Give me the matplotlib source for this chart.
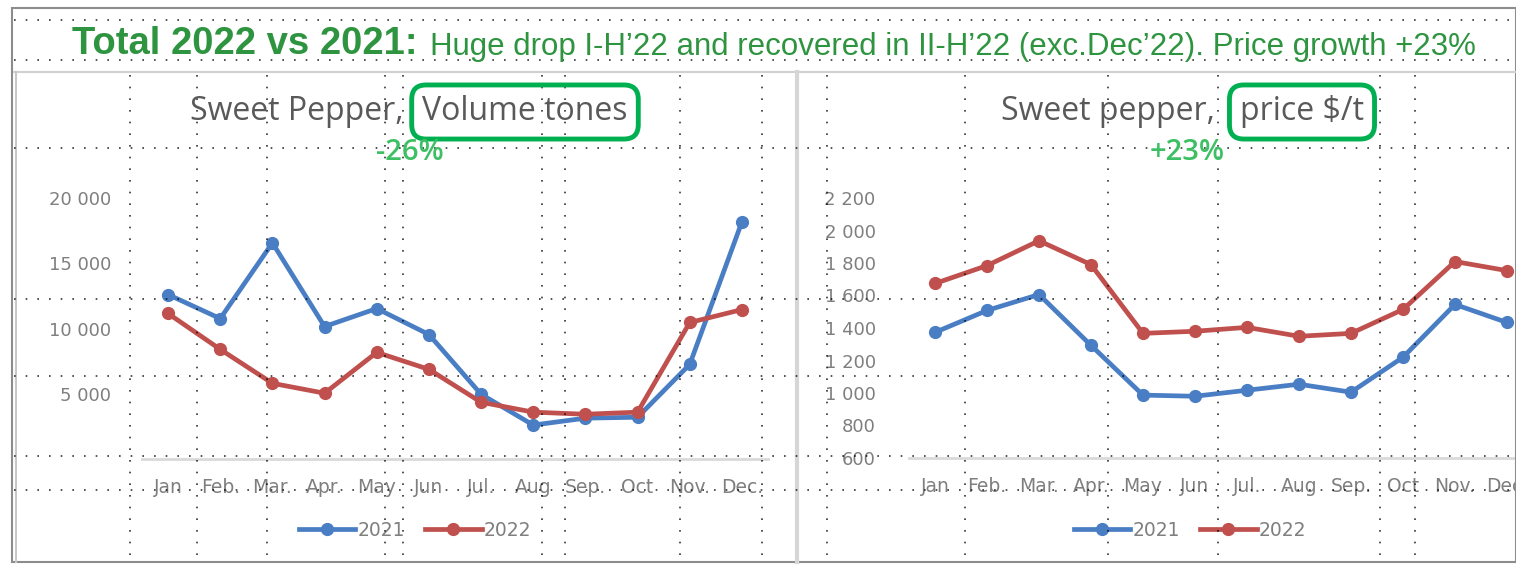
import matplotlib.pyplot as plt
from matplotlib.patches import Rectangle

# data
months = ["Jan", "Feb.", "Mar.", "Apr.", "May", "Jun", "Jul.", "Aug", "Sep.", "Oct", "Nov.", "Dec."]
volume_2021 = [12600, 10760, 16560, 10150, 11530, 9540, 4960, 2600, 3130, 3200, 7250, 18170]
volume_2022 = [11150, 8400, 5800, 5040, 8170, 6870, 4350, 3590, 3430, 3590, 10460, 11450]
price_2021 = [1373, 1508, 1606, 1293, 987, 980, 1017, 1054, 1005, 1220, 1545, 1434]
price_2022 = [1674, 1784, 1937, 1790, 1367, 1380, 1404, 1349, 1367, 1514, 1809, 1753]
volume_ticks = [5000, 10000, 15000, 20000]
price_ticks = [600, 800, 1000, 1200, 1400, 1600, 1800, 2000, 2200]

W, H = 1516, 565
BLUE = '#4A7EC4'
RED = '#C0504D'
GREY = '#7F7F7F'
GREEN_TITLE = '#2E9440'
GREEN_PCT = '#3DC063'
GREEN_BOX = '#00B050'

fig = plt.figure(figsize=(W / 100, H / 100), dpi=100)


def px(x, y):
    # pixel position (from top-left) -> figure fraction
    return x / W, 1 - y / H


def add_panel(x0, x1, y_top, y_bot, v21, v22, ticks, ylim, ypad):
    left, top = px(x0, y_top)
    right, bottom = px(x1, y_bot)
    ax = fig.add_axes([left, bottom, right - left, top - bottom])
    x = range(len(months))
    ax.plot(x, v21, color=BLUE, lw=3.4, marker='o', ms=8.5, label='2021')
    ax.plot(x, v22, color=RED, lw=3.4, marker='o', ms=8.5, label='2022')
    ax.set_xlim(-0.5, len(months) - 0.5)
    ax.set_ylim(*ylim)
    ax.set_yticks(ticks)
    ax.set_yticklabels([f"{t:,.0f}".replace(',', ' ') for t in ticks])
    ax.set_xticks(list(x))
    ax.set_xticklabels(months)
    ax.tick_params(length=0, colors=GREY)
    ax.tick_params(axis='y', pad=ypad, labelsize=13)
    ax.tick_params(axis='x', pad=14, labelsize=13.5)
    for s in ['top', 'right', 'left']:
        ax.spines[s].set_visible(False)
    ax.spines['bottom'].set_color('#D9D9D9')
    ax.spines['bottom'].set_linewidth(2)
    ax.patch.set_alpha(0)
    return ax


ax1 = add_panel(142, 768, 198, 459, volume_2021, volume_2022, volume_ticks, (0, 20000), 22)
ax2 = add_panel(909, 1533, 198, 458, price_2021, price_2022, price_ticks, (600, 2200), 24)

for ax, cx in [(ax1, 415), (ax2, 1190)]:
    ax.legend(loc='center', bbox_to_anchor=px(cx, 530), bbox_transform=fig.transFigure,
              ncol=2, frameon=False, fontsize=13.5, labelcolor=GREY, handlelength=3.0,
              handletextpad=0.1, columnspacing=1.1)

# header
title_font = ['Liberation Sans Narrow', 'Liberation Sans', 'DejaVu Sans']
fig.text(*px(72, 44), "Total 2022 vs 2021:", color=GREEN_TITLE, fontsize=27.5,
         fontweight='bold', family=title_font, va='center', ha='left')
fig.text(*px(430, 47), "Huge drop I-H’22 and recovered in II-H’22 (exc.Dec’22). Price growth +23%",
         color=GREEN_TITLE, fontsize=22.5, family=title_font, va='center', ha='left')

# panel titles
panel_font = ['Open Sans', 'DejaVu Sans']
box = dict(boxstyle='round,pad=0.33,rounding_size=0.45', ec=GREEN_BOX, fc='none', lw=3.5)
fig.text(*px(403, 112), "Sweet Pepper,", color='#595959', fontsize=23, family=panel_font,
         ha='right', va='center')
fig.text(*px(525, 112), "Volume tones", color='#595959', fontsize=23, family=panel_font,
         ha='center', va='center', bbox=box)
fig.text(*px(1215, 112), "Sweet pepper,", color='#595959', fontsize=23, family=panel_font,
         ha='right', va='center')
fig.text(*px(1302, 112), "price $/t", color='#595959', fontsize=23, family=panel_font,
         ha='center', va='center', bbox=box)
fig.text(*px(410, 152), "-26%", color=GREEN_PCT, fontsize=21, fontweight='semibold',
         family=panel_font, ha='center', va='center')
fig.text(*px(1187, 152), "+23%", color=GREEN_PCT, fontsize=21, fontweight='semibold',
         family=panel_font, ha='center', va='center')

# frame of the slide
fig.add_artist(Rectangle(px(12, 562), (W - 12) / W, 554 / H, transform=fig.transFigure,
                         fill=False, ec='#8C8C8C', lw=1.5))
fig.add_artist(plt.Line2D([14 / W, 1], [1 - 72 / H] * 2, color='#D0D0D0', lw=1.5))
fig.add_artist(plt.Line2D([16 / W] * 2, [1 - 72 / H, 1 - 562 / H], color='#C8C8C8', lw=1.5))
fig.add_artist(plt.Line2D([797 / W] * 2, [1 - 72 / H, 1 - 562 / H], color='#D6D6D6', lw=3))

# dotted overlay lines seen on the screenshot
dot = dict(color='black', lw=1.2, ls=(0, (1, 6)), alpha=0.8)
for y in [20, 60, 148, 299, 376, 456, 490]:
    fig.add_artist(plt.Line2D([14 / W, 1], [1 - y / H] * 2, **dot))
for x in [130, 197, 267, 385, 403, 542, 565, 680, 762, 827, 965, 1108, 1218, 1380, 1415]:
    fig.add_artist(plt.Line2D([x / W] * 2, [1 - 75 / H, 1 - 560 / H], **dot))

fig.savefig('out.png', dpi=100)
